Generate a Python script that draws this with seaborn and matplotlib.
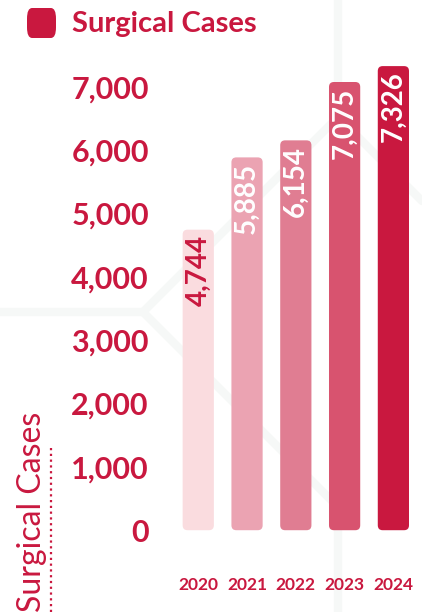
import pandas as pd
import seaborn as sns
import matplotlib.pyplot as plt
from matplotlib.patches import FancyBboxPatch
from matplotlib.lines import Line2D
from matplotlib.ticker import FuncFormatter

years = ["2020", "2021", "2022", "2023", "2024"]
cases = [4744, 5885, 6154, 7075, 7326]
bar_colors = ["#FADCDF", "#EBA3B2", "#E07D92", "#D8536F", "#C9183F"]
label_colors = ["#C9183F", "white", "white", "white", "white"]
y_ticks = [0, 1000, 2000, 3000, 4000, 5000, 6000, 7000]

RED = "#C9183F"
FAINT = "#F6F8F7"

sns.set_style("white")
plt.rcParams["font.family"] = ["Lato", "DejaVu Sans"]

df = pd.DataFrame({"year": years, "cases": cases})

fig = plt.figure(figsize=(4.22, 6.12), dpi=100)

# faint decorative background lines
for xs, ys in [([0, 143], [312, 312]),
               ([143, 338], [312, 117]),
               ([143, 338], [312, 507]),
               ([338, 338], [0, 117]),
               ([338, 338], [507, 612]),
               ([338, 422], [117, 201])]:
    fig.add_artist(Line2D([x / 422 for x in xs], [1 - y / 612 for y in ys],
                          color=FAINT, lw=6, zorder=0))

ax = fig.add_axes([0.412, 0.085, 0.578, 0.825])
ax.patch.set_alpha(0)

sns.barplot(data=df, x="year", y="cases", hue="year", palette=bar_colors,
            legend=False, width=0.64, ax=ax, saturation=1)

ax.set_ylim(-470, 7500)
ax.set_xlim(-0.5, 4.5)

# swap plain bars for rounded ones
for patch, color in zip(list(ax.patches), bar_colors):
    x, y = patch.get_x(), patch.get_y()
    w, h = patch.get_width(), patch.get_height()
    patch.remove()
    ax.add_patch(FancyBboxPatch((x, y), w, h,
                                boxstyle="round,pad=0,rounding_size=0.1",
                                mutation_aspect=780, fc=color, ec="none"))

for i, (v, c) in enumerate(zip(cases, label_colors)):
    ax.annotate(f"{v:,}", (i, v), xytext=(0, -4), textcoords="offset points",
                rotation=90, ha="center", va="top", color=c,
                fontsize=20, fontweight="bold")

ax.set_yticks(y_ticks)
ax.yaxis.set_major_formatter(FuncFormatter(lambda v, p: f"{int(v):,}"))
ax.tick_params(axis="y", length=0, pad=18, labelsize=22, labelcolor=RED)
ax.tick_params(axis="x", length=0, pad=12, labelsize=12.5, labelcolor=RED)
for lab in ax.get_yticklabels() + ax.get_xticklabels():
    lab.set_fontweight("bold")
ax.set_xlabel("")
ax.set_ylabel("")
sns.despine(ax=ax, left=True, bottom=True)

# side axis title with dotted underline
fig.text(32 / 422, 0.0, "Surgical Cases", rotation=90, ha="center",
         va="bottom", color=RED, fontsize=23)
fig.add_artist(Line2D([51 / 422, 51 / 422], [0.0, 1 - 448 / 612],
                      color=RED, lw=1.6, ls=(0, (1, 1.6))))

# legend-like header
fig.add_artist(FancyBboxPatch((27 / 422, 1 - 38 / 612), 29 / 422, 30 / 612,
                              boxstyle="round,pad=0,rounding_size=0.012",
                              mutation_aspect=1.45, fc=RED, ec="none",
                              transform=fig.transFigure))
fig.text(72 / 422, 1 - 24 / 612, "Surgical Cases", ha="left", va="center",
         color=RED, fontsize=21, fontweight="bold")

fig.savefig("out.png", dpi=100)
